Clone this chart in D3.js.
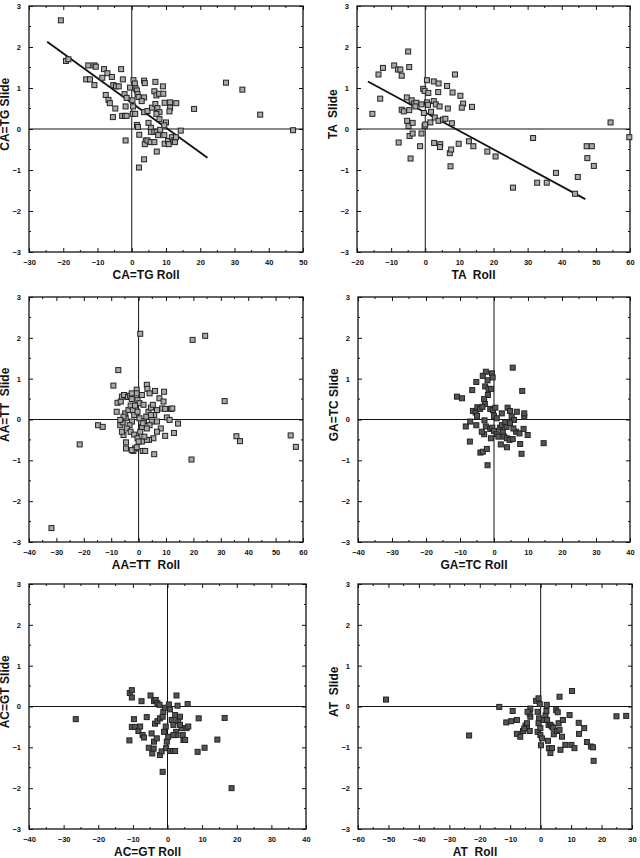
<!DOCTYPE html>
<html>
<head>
<meta charset="utf-8">
<script src="https://cdnjs.cloudflare.com/ajax/libs/d3/7.8.5/d3.min.js"></script>
<style>
  body { margin: 0; background: #fff; }
  text { font-family: "Liberation Sans", Arial, sans-serif; fill: #111; }
</style>
</head>
<body>
<script>
// [roll, slide] pairs
var caTg = [[-20.7,2.65],[-19.2,1.66],[-18.5,1.70],[-12.7,1.55],[-10.9,1.55],[-10.5,1.52],[-13.3,1.21],[-12.2,1.21],
  [-10.9,1.07],[-8.1,1.46],[-7.1,1.36],[-8.6,1.25],[-5.8,1.27],[-7.6,0.83],[-6.8,0.71],[-6.4,0.63],[-4.8,0.50],[-5.5,0.29],
  [-5.4,1.07],[-4.6,1.04],[-3.8,1.04],[-3.1,1.46],[-2.6,1.21],[-2.8,0.32],[-2.0,0.32],[-1.5,0.32],[-2.1,0.85],[-1.5,0.76],
  [-1.8,0.55],[-1.8,-0.28],[-0.5,1.01],[0.5,1.19],[0.9,1.11],[1.1,0.99],[0.2,0.70],[0.4,0.55],[0.3,0.37],[1.0,0.37],
  [1.5,0.94],[1.7,0.85],[2.0,0.78],[1.5,0.10],[1.8,0.05],[2.2,-0.14],[2.1,-0.94],[3.6,1.18],[3.8,1.12],[3.6,0.77],[2.9,0.68],
  [3.6,0.41],[4.6,0.44],[4.1,-0.28],[3.8,-0.37],[4.6,-0.28],[3.6,-0.74],[4.9,0.15],[5.6,0.03],[5.6,-0.07],[6.6,-0.07],
  [7.3,-0.07],[5.5,-0.32],[6.6,-0.32],[6.9,1.15],[6.6,0.92],[7.2,0.82],[8.0,0.86],[9.2,0.86],[9.1,1.04],[5.9,0.52],[6.9,0.61],
  [7.5,0.51],[8.1,0.41],[7.2,0.37],[7.3,-0.55],[7.7,-0.15],[8.3,-0.02],[8.1,0.24],[9.6,0.64],[10.0,0.16],[9.5,0.09],
  [9.5,-0.15],[9.6,-0.36],[10.6,-0.29],[10.8,-0.37],[11.2,0.65],[11.2,0.52],[11.0,0.43],[11.7,-0.20],[12.2,-0.28],
  [12.6,-0.32],[12.9,-0.20],[13.0,0.63],[14.3,-0.04],[18.2,0.49],[27.5,1.13],[32.3,0.96],[37.5,0.35],[47.1,-0.03]];
var caTgFit = [[-24.7,2.13],[22.1,-0.70]];

var ta = [[-15.5,0.37],[-13.7,1.33],[-12.4,1.49],[-13.2,0.74],[-9.1,1.55],[-8.0,1.45],[-7.3,1.45],[-6.9,1.30],[-5.0,1.89],
  [-4.7,1.51],[-7.8,-0.33],[-6.9,0.47],[-6.3,0.43],[-5.4,0.77],[-4.7,0.46],[-4.0,0.70],[-3.3,0.62],[-2.6,0.64],[-2.9,0.55],
  [-5.3,0.20],[-4.9,0.07],[-3.7,0.15],[-4.6,-0.17],[-3.7,-0.11],[-4.3,-0.72],[-1.5,-0.42],[-1.1,-0.11],[-1.1,0.60],
  [-0.6,0.98],[-0.2,0.93],[-0.4,0.39],[-0.2,0.07],[0.0,0.11],[0.5,1.19],[0.9,0.88],[0.5,0.65],[0.8,0.59],[1.7,0.42],
  [1.5,0.16],[2.5,1.16],[3.9,1.11],[3.8,0.90],[2.5,0.68],[3.1,0.60],[4.2,0.55],[2.8,0.28],[3.9,0.20],[5.2,0.23],[5.9,0.25],
  [2.6,-0.34],[4.4,-0.37],[4.3,-0.44],[6.4,1.05],[8.0,0.89],[8.7,1.33],[6.6,0.50],[7.8,0.14],[7.2,-0.59],[7.6,-0.50],
  [7.4,-0.91],[9.8,-0.36],[10.3,0.81],[11.1,0.62],[10.7,0.52],[12.8,-0.30],[14.1,-0.42],[13.7,0.54],[18.2,-0.55],
  [20.6,-0.67],[25.7,-1.43],[31.6,-0.22],[32.8,-1.31],[35.6,-1.31],[38.3,-1.07],[43.9,-1.58],[44.7,-1.17],[47.3,-0.42],
  [48.8,-0.42],[47.5,-0.71],[49.4,-0.90],[54.3,0.16],[59.8,-0.20]];
var taFit = [[-16.8,1.16],[46.9,-1.71]];

var aaTt = [[-31.8,-2.66],[-21.5,-0.61],[-14.8,-0.14],[-13.1,-0.18],[-9.2,0.83],[-7.4,1.21],[0.6,2.10],[19.7,1.95],
  [24.3,2.05],[31.4,0.45],[19.3,-0.98],[35.7,-0.41],[37.0,-0.53],[55.5,-0.39],[57.4,-0.67],[5.7,-0.85],[12.9,-0.33],
  [14.4,-0.10],[-8.0,0.19],[-7.7,0.41],[-6.5,0.44],[-6.1,0.56],[-5.3,0.60],[-3.9,0.55],[-3.1,0.58],[-2.5,0.50],[-0.7,0.73],
  [-0.7,0.64],[-0.4,0.48],[0.3,0.40],[1.2,0.60],[3.0,0.85],[3.2,0.75],[4.0,0.64],[6.0,0.70],[7.6,0.52],[9.1,0.44],[9.3,0.68],
  [8.6,0.27],[9.7,0.26],[10.3,0.05],[11.3,-0.01],[11.8,0.26],[12.3,0.27],[8.1,-0.22],[9.7,-0.40],[6.7,-0.30],[5.4,-0.46],
  [3.8,-0.50],[3.0,-0.50],[2.1,-0.42],[1.5,-0.77],[2.4,-0.77],[-1.3,-0.71],[-1.9,-0.77],[-2.5,-0.75],[-0.7,-0.68],
  [-4.6,-0.71],[-4.6,-0.56],[-5.5,-0.38],[-6.1,-0.30],[-6.7,-0.14],[-5.8,-0.07],[-4.7,0.03],[-4.9,0.15],[-3.7,0.23],
  [-2.9,0.34],[-2.1,0.23],[-1.6,0.11],[-2.4,-0.05],[-3.3,-0.14],[-4.3,-0.22],[-2.9,-0.30],[-1.6,-0.37],[-0.4,-0.46],
  [0.6,-0.30],[1.2,-0.18],[2.0,-0.04],[2.8,0.07],[3.6,0.19],[4.5,0.29],[5.2,0.36],[6.7,0.23],[5.7,0.11],[4.8,-0.05],
  [4.0,-0.14],[3.0,-0.22],[1.5,-0.09],[0.3,0.03],[-0.4,0.19],[-1.3,0.34],[-2.5,0.64],[1.8,0.36],[4.5,0.11],[6.7,-0.05],
  [1.2,-0.54],[0.0,-0.54],[-5.5,0.07],[-6.7,-0.01]];

var gaTc = [[-10.9,0.56],[-9.4,0.52],[-6.4,0.72],[-5.2,0.92],[-3.3,1.07],[-2.4,1.17],[-1.9,0.96],[-0.6,1.13],[-0.4,1.03],
  [-2.6,0.81],[-1.6,0.75],[-0.9,0.75],[-1.8,0.60],[-2.9,0.50],[-2.7,0.38],[5.5,1.27],[8.3,0.70],[-6.2,0.21],[-5.4,0.17],
  [-4.9,0.30],[-4.1,0.26],[-3.4,0.31],[-5.0,0.09],[-8.3,-0.17],[-7.0,-0.05],[-5.2,-0.14],[-7.1,-0.54],[-2.8,-0.02],
  [-2.4,-0.17],[-2.9,-0.36],[-3.6,-0.30],[-4.0,-0.81],[-3.3,-0.79],[-2.1,-0.72],[-1.9,-1.12],[-1.1,0.26],[-0.3,0.23],
  [0.4,0.29],[0.0,0.09],[0.8,0.03],[-1.1,-0.23],[-0.5,-0.20],[0.0,-0.28],[0.8,-0.36],[1.3,-0.42],[-0.9,-0.46],[1.8,-0.20],
  [2.6,-0.30],[2.3,-0.14],[3.3,-0.07],[2.3,0.15],[4.0,0.29],[4.7,0.21],[5.2,0.07],[5.9,-0.01],[6.7,0.19],[3.0,-0.42],
  [3.8,-0.46],[4.6,-0.50],[5.5,-0.48],[2.0,-0.61],[3.8,-0.68],[6.5,-0.30],[7.5,-0.34],[8.7,-0.23],[8.9,0.07],[8.9,0.15],
  [7.7,-0.60],[8.1,-0.84],[9.9,-0.38],[14.6,-0.58],[3.7,-0.18],[4.7,-0.09],[5.7,-0.22]];

var acGt = [[-26.5,-0.31],[-10.9,0.33],[-10.3,0.40],[-10.3,0.22],[-11.0,-0.83],[-10.3,-0.50],[-9.4,-0.50],[-9.7,-0.31],
  [-8.4,-0.60],[-7.9,-0.49],[-7.2,-0.70],[-6.8,-0.76],[-7.5,0.13],[-6.0,-0.26],[-5.4,-1.01],[-4.4,-1.15],[-4.0,-1.03],
  [-4.9,0.27],[-3.9,0.13],[-3.4,0.16],[-2.9,0.08],[-2.3,0.04],[-4.6,-0.66],[-3.9,-0.86],[-3.1,-0.78],[-3.6,-0.42],
  [-2.9,-0.36],[-2.2,-0.29],[-1.4,-0.25],[-2.2,-1.19],[-1.7,-1.10],[-1.4,-1.60],[-1.0,-0.62],[-0.5,-0.49],[-0.2,-0.86],
  [0.2,-0.74],[-1.2,-0.13],[-0.7,-0.03],[0.4,0.05],[0.7,-0.07],[-0.4,-1.02],[0.7,-1.09],[1.5,-1.09],[2.2,-1.09],[2.6,0.27],
  [2.9,0.02],[1.7,-0.45],[2.5,-0.62],[3.1,-0.36],[3.6,-0.25],[4.1,-0.53],[4.4,-0.70],[4.6,-0.82],[5.1,-0.82],[5.5,-0.53],
  [6.0,-0.49],[3.6,-0.45],[2.6,-0.70],[1.7,-0.70],[1.2,-0.33],[2.2,-0.21],[5.8,0.06],[9.0,-0.29],[8.7,-1.11],[10.7,-1.01],
  [14.4,-0.81],[16.5,-0.28],[18.5,-2.00]];

var at = [[-50.8,0.17],[-23.5,-0.71],[-13.6,-0.01],[-11.3,-0.39],[-9.7,-0.36],[-9.2,-0.11],[-7.8,-0.33],[-7.8,-0.67],
  [-6.7,-0.74],[-5.8,-0.60],[-5.0,-0.47],[-4.5,-0.52],[-3.6,-0.60],[-5.4,-0.54],[-4.5,-0.41],[-3.4,-0.25],[-3.6,-0.17],
  [-3.4,-0.05],[-4.3,-0.13],[-1.5,0.14],[-0.7,0.20],[-0.3,0.06],[-1.0,-0.13],[-0.5,-0.29],[-0.7,-0.41],[-1.0,-0.62],
  [-0.1,-0.53],[-0.1,-0.70],[0.1,-0.95],[0.4,-0.78],[1.0,-0.33],[1.6,-0.22],[2.1,-0.33],[2.6,-0.45],[3.2,-0.45],[3.6,-0.49],
  [4.1,-0.52],[2.0,0.04],[1.9,-0.11],[2.4,-0.84],[2.7,-1.02],[3.7,-1.02],[3.2,-1.14],[4.3,-0.68],[5.4,-0.60],[5.9,-0.41],
  [6.2,-0.57],[7.0,-0.74],[7.3,-0.33],[6.2,0.24],[5.1,-0.09],[5.6,-0.14],[6.5,-1.06],[8.1,-0.94],[9.5,-0.21],[10.1,-0.94],
  [10.3,0.38],[11.1,-1.02],[12.5,-0.40],[12.6,-0.67],[14.3,-0.53],[15.2,-0.87],[16.5,-0.98],[17.2,-1.00],[17.4,-1.33],
  [24.9,-0.24],[28.1,-0.23]];

var slideTicks = [-3, -2, -1, 0, 1, 2, 3];

var panels = [
  { pts: caTg, fit: caTgFit, xd: [-30, 50], xlab: 'CA=TG Roll', ylab: 'CA=TG Slide', box: [29, 6, 303, 252], dark: false },
  { pts: ta, fit: taFit, xd: [-20, 60], xlab: 'TA  Roll', ylab: 'TA  Slide', box: [357, 6, 630, 252], dark: false },
  { pts: aaTt, xd: [-40, 60], xlab: 'AA=TT  Roll', ylab: 'AA=TT  Slide', box: [29, 297, 303, 542], dark: false },
  { pts: gaTc, xd: [-40, 40], xlab: 'GA=TC Roll', ylab: 'GA=TC Slide', box: [358, 297, 630, 542], dark: true },
  { pts: acGt, xd: [-40, 40], xlab: 'AC=GT Roll', ylab: 'AC=GT Slide', box: [29, 584, 306, 829], dark: true },
  { pts: at, xd: [-60, 30], xlab: 'AT  Roll', ylab: 'AT  Slide', box: [358, 584, 632, 829], dark: true }
];

var svg = d3.select('body').append('svg')
  .attr('width', 640).attr('height', 858);

panels.forEach(function(p) {
  var b = p.box;
  var x = d3.scaleLinear().domain(p.xd).range([b[0], b[2]]);
  var y = d3.scaleLinear().domain([-3, 3]).range([b[3], b[1]]);
  var g = svg.append('g');
  var xt = d3.range(p.xd[0], p.xd[1] + 1, 10);
  var xMinor = d3.range(p.xd[0] + 5, p.xd[1], 10);
  var yMinor = d3.range(-2.5, 3, 1);

  // frame
  g.append('rect').attr('x', b[0]).attr('y', b[1])
    .attr('width', b[2] - b[0]).attr('height', b[3] - b[1])
    .attr('fill', 'none').attr('stroke', '#111').attr('stroke-width', 1.3);

  // ticks, pointing in on all sides
  var ax = [
    d3.axisBottom(x).tickValues(xt).tickSizeInner(-4).tickSizeOuter(0).tickPadding(8).tickFormat(d3.format('d')),
    d3.axisTop(x).tickValues(xt).tickSizeInner(-4).tickSizeOuter(0).tickFormat(''),
    d3.axisLeft(y).tickValues(slideTicks).tickSizeInner(-4).tickSizeOuter(0).tickPadding(8).tickFormat(d3.format('d')),
    d3.axisRight(y).tickValues(slideTicks).tickSizeInner(-4).tickSizeOuter(0).tickFormat('')
  ];
  var tr = ['translate(0,' + b[3] + ')', 'translate(0,' + b[1] + ')', 'translate(' + b[0] + ',0)', 'translate(' + b[2] + ',0)'];
  ax.forEach(function(a, i) {
    var s = g.append('g').attr('transform', tr[i]).call(a);
    s.select('.domain').remove();
    s.selectAll('line').attr('stroke', '#111');
    s.selectAll('text').attr('font-size', 7.5).attr('font-weight', 'bold').attr('font-family', 'Liberation Sans, Arial');
  });
  // minor ticks
  [b[1], b[3]].forEach(function(yy, k) {
    g.selectAll(null).data(xMinor).enter().append('line')
      .attr('x1', x).attr('x2', x).attr('y1', yy).attr('y2', yy + (k ? -2 : 2)).attr('stroke', '#111');
  });
  [b[0], b[2]].forEach(function(xx, k) {
    g.selectAll(null).data(yMinor).enter().append('line')
      .attr('y1', y).attr('y2', y).attr('x1', xx).attr('x2', xx + (k ? -2 : 2)).attr('stroke', '#111');
  });

  // zero cross
  g.append('line').attr('x1', b[0]).attr('x2', b[2]).attr('y1', y(0)).attr('y2', y(0)).attr('stroke', '#111').attr('stroke-width', 1.2);
  g.append('line').attr('x1', x(0)).attr('x2', x(0)).attr('y1', b[1]).attr('y2', b[3]).attr('stroke', '#111').attr('stroke-width', 1);

  if (p.fit) {
    g.append('line').attr('x1', x(p.fit[0][0])).attr('y1', y(p.fit[0][1]))
      .attr('x2', x(p.fit[1][0])).attr('y2', y(p.fit[1][1]))
      .attr('stroke', '#111').attr('stroke-width', 1.8);
  }

  g.selectAll('rect.pt').data(p.pts).enter().append('rect')
    .attr('class', 'pt')
    .attr('x', function(d) { return x(d[0]) - 2.5; })
    .attr('y', function(d) { return y(d[1]) - 2.5; })
    .attr('width', 5).attr('height', 5)
    .attr('fill', p.dark ? '#555' : '#aaa')
    .attr('stroke', '#222').attr('stroke-width', 1);

  g.append('text').attr('x', (b[0] + b[2]) / 2 - 20).attr('y', b[3] + 27)
    .attr('text-anchor', 'middle').attr('font-size', 12).attr('font-weight', 'bold')
    .attr('font-family', 'Liberation Sans, Arial').attr('xml:space', 'preserve').text(p.xlab);
  g.append('text').attr('transform', 'translate(' + (b[0] - 20) + ',' + (b[1] + (b[3] - b[1]) * 0.44) + ') rotate(-90)')
    .attr('text-anchor', 'middle').attr('font-size', 12).attr('font-weight', 'bold')
    .attr('font-family', 'Liberation Sans, Arial').attr('xml:space', 'preserve').text(p.ylab);
});
</script>
</body>
</html>
